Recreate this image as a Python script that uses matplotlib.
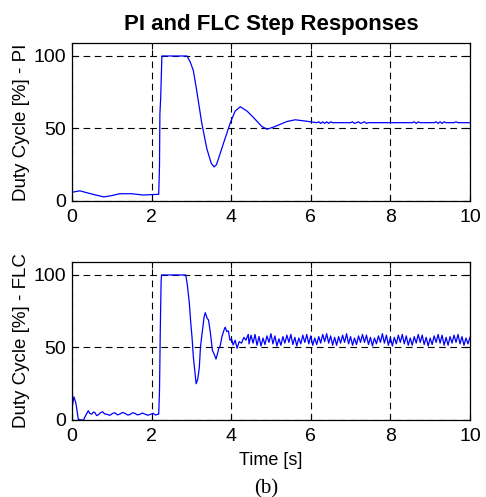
import matplotlib
matplotlib.use('Agg')
import matplotlib.pyplot as plt
import numpy as np

plt.rcParams['font.family'] = ['Liberation Sans', 'DejaVu Sans']

# PI controller step response (time [s], duty cycle [%])
t_pi = [0.0, 0.2, 0.5, 0.8, 1.0, 1.2, 1.5, 1.8, 2.0, 2.18, 2.2, 2.21, 2.23, 2.26,
        2.5, 2.89, 2.97, 3.05, 3.13, 3.26, 3.39, 3.5, 3.57, 3.63, 3.68, 3.81, 3.98,
        4.1, 4.23, 4.4, 4.56, 4.77, 4.9, 5.07, 5.4, 5.61, 5.9, 6.15, 6.2, 6.25, 6.3,
        6.35, 6.4, 6.45, 6.5, 6.55, 7.0, 7.05, 7.1, 7.2, 7.25, 7.35, 7.4, 7.45, 8.55,
        8.6, 8.65, 8.7, 8.75, 9.1, 9.15, 9.2, 9.25, 9.3, 9.35, 9.4, 9.6, 9.65, 9.7, 10.0]
d_pi = [6.0, 7.0, 4.8, 2.8, 3.7, 5.0, 5.0, 4.1, 4.4, 4.6, 24.0, 60.0, 71.0, 100.0,
        100.0, 100.0, 96.0, 90.0, 77.0, 54.0, 36.0, 26.0, 23.5, 25.0, 29.0, 40.0, 54.0,
        62.0, 65.0, 62.0, 57.6, 51.4, 49.5, 51.0, 54.8, 56.0, 55.0, 54.0, 54.6, 53.5, 54.6,
        53.5, 54.6, 53.5, 54.6, 54.0, 54.0, 54.6, 53.5, 54.6, 53.5, 54.6, 53.5, 54.0, 54.0,
        54.6, 53.5, 54.6, 54.0, 54.0, 54.6, 53.5, 54.6, 53.5, 54.6, 54.0, 54.0, 54.6, 54.0, 54.0]

# FLC step response: start-up, low level and transient
t_flc = [0.0, 0.05, 0.1, 0.16, 0.24, 0.29, 0.33, 0.41, 0.45, 0.5, 0.54, 0.58, 0.62,
         0.66, 0.72, 0.77, 0.82, 0.87, 0.95, 1.02, 1.08, 1.14, 1.2, 1.27, 1.33, 1.4,
         1.46, 1.52, 1.58, 1.64, 1.71, 1.77, 1.83, 1.9, 1.96, 2.04, 2.1, 2.13, 2.18,
         2.2, 2.22, 2.24, 2.25, 2.86, 2.9, 2.95, 2.98, 3.02, 3.05, 3.08, 3.12, 3.16,
         3.2, 3.23, 3.28, 3.32, 3.35, 3.4, 3.43, 3.47, 3.51, 3.53, 3.58, 3.62, 3.65,
         3.69, 3.72, 3.77, 3.82, 3.85, 3.89, 3.93, 3.97, 4.01, 4.05, 4.1, 4.15, 4.2,
         4.26, 4.32, 4.37, 4.43]
d_flc = [8.0, 16.0, 11.5, 0.5, 0.0, 0.0, 2.3, 6.4, 4.5, 4.0, 5.5, 5.0, 3.0,
         3.5, 5.0, 5.7, 4.2, 4.0, 3.2, 4.5, 5.0, 3.5, 4.0, 5.2, 4.6, 3.4,
         3.7, 5.0, 4.6, 3.5, 3.9, 4.8, 4.1, 3.3, 3.7, 4.6, 3.4, 3.7, 4.0,
         20.0, 62.0, 95.0, 100.0, 100.0, 93.0, 80.5, 69.0, 56.0, 43.7, 35.8, 25.0, 28.0,
         36.0, 50.6, 62.0, 71.0, 74.0, 70.0, 69.0, 62.0, 53.0, 48.0, 45.0, 42.0, 45.0,
         49.4, 50.6, 57.5, 62.0, 64.0, 61.0, 61.5, 55.0, 56.0, 51.7, 55.0, 49.4, 54.0,
         53.0, 57.0, 55.0, 59.0]

# FLC steady-state ripple, sampled every 0.05 s from 4.45 s to 10 s
ripple_flc = [
    52.5, 58.5, 53.0, 59.0, 51.5, 57.5, 51.0, 56.5, 52.0, 58.0,
    53.5, 59.5, 52.5, 58.0, 51.0, 56.0, 51.5, 57.5, 53.0, 58.5,
    53.5, 59.0, 52.0, 57.0, 51.0, 56.5, 52.5, 58.5, 53.5, 59.0,
    52.5, 58.0, 51.5, 56.5, 52.0, 57.5, 53.0, 59.0, 54.0, 59.5,
    53.0, 58.0, 51.5, 57.0, 51.5, 57.5, 53.0, 58.5, 53.5, 59.5,
    52.5, 57.5, 51.5, 56.5, 52.0, 58.0, 53.5, 59.0, 53.5, 58.5,
    52.0, 57.0, 51.0, 56.5, 52.5, 58.0, 53.5, 59.5, 53.0, 58.5,
    51.5, 57.0, 51.0, 57.0, 52.5, 58.5, 53.5, 59.0, 52.5, 58.0,
    51.5, 56.5, 51.5, 57.5, 53.0, 59.0, 53.5, 58.5, 52.0, 57.0,
    51.0, 56.5, 52.0, 58.0, 53.5, 59.0, 53.0, 58.5, 51.5, 57.0,
    51.5, 57.5, 53.0, 58.5, 53.5, 59.0, 52.5, 57.5, 51.5, 56.5,
    52.5, 57.0]
t_ripple = np.linspace(4.45, 10.0, len(ripple_flc))

t_flc_all = np.concatenate([t_flc, t_ripple])
d_flc_all = np.concatenate([d_flc, ripple_flc])

xticks = [0, 2, 4, 6, 8, 10]
yticks = [0, 50, 100]

fig = plt.figure(figsize=(4.86, 4.97), dpi=100)
ax1 = fig.add_axes([0.148, 0.5956, 0.819, 0.318])
ax2 = fig.add_axes([0.148, 0.155, 0.819, 0.318])

for ax, t, d, lab in [(ax1, t_pi, d_pi, 'Duty Cycle [%] - PI'),
                      (ax2, t_flc_all, d_flc_all, 'Duty Cycle [%] - FLC')]:
    ax.plot(t, d, color='#0000ff', linewidth=0.9)
    ax.set_xlim(0, 10)
    ax.set_ylim(0, 109)
    ax.set_xticks(xticks)
    ax.set_yticks(yticks)
    ax.grid(True, color='black', linestyle=(0, (6, 4)), linewidth=0.8)
    ax.tick_params(direction='in', top=True, right=True, length=4, labelsize=14)
    ax.tick_params(axis='x', pad=6)
    ax.tick_params(axis='y', pad=4)
    ax.set_ylabel(lab, fontsize=13.5, labelpad=3)
    for s in ax.spines.values():
        s.set_linewidth(0.9)

ax1.set_title('PI and FLC Step Responses', fontsize=16, fontweight='bold', pad=9)
ax2.set_xlabel('Time [s]', fontsize=13, labelpad=5)
fig.text(0.548, 0.008, '(b)', fontsize=15, family='Liberation Serif', ha='center')

fig.savefig('out.png', dpi=100)
